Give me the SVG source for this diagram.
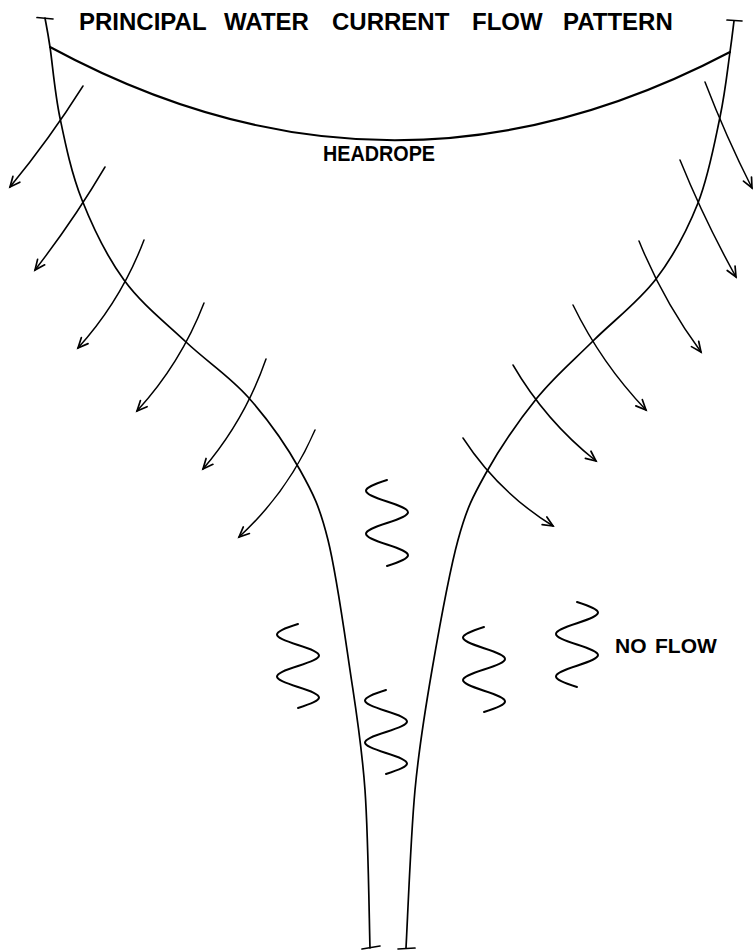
<svg xmlns="http://www.w3.org/2000/svg" width="753" height="951" viewBox="0 0 753 951">
<style>
.ln{fill:none;stroke:#000;stroke-width:1.7;stroke-linecap:round;stroke-linejoin:round}
.hr{fill:none;stroke:#000;stroke-width:2.1;stroke-linecap:round}
.ar{fill:none;stroke:#000;stroke-width:1.5;stroke-linecap:round;marker-end:url(#ah)}
.sq{fill:none;stroke:#000;stroke-width:2;stroke-linecap:round}
.lbl{font-family:"Liberation Sans",Arial,sans-serif;font-weight:bold;fill:#000}
</style>
<defs>
<marker id="ah" markerUnits="userSpaceOnUse" markerWidth="14" markerHeight="14" viewBox="-12 -7 14 14" refX="0" refY="0" orient="auto" overflow="visible">
<path d="M-10,-4.5 L0,0 L-10,4.5" fill="none" stroke="#000" stroke-width="1.7" stroke-linecap="round" stroke-linejoin="miter"/>
</marker>
</defs>
<rect width="753" height="951" fill="#fff"/>

<g id="title">
<text class="lbl" y="30" font-size="24"><tspan x="79">PRINCIPAL</tspan> <tspan x="224">WATER</tspan> <tspan x="332">CURRENT</tspan> <tspan x="472">FLOW</tspan> <tspan x="563">PATTERN</tspan></text>
</g>

<g id="headrope">
<path class="hr" d="M50,47 Q390,231 730,52"/>
<text class="lbl" x="323" y="161" font-size="22" textLength="112" lengthAdjust="spacingAndGlyphs">HEADROPE</text>
</g>

<g id="net-left">
<path class="ln" d="M45,18 C45.8,22.8 47.5,30.3 50,47 C52.5,63.7 54.7,92.5 60,118 C65.3,143.5 71.3,173 82,200 C92.7,227 106.7,256.3 124,280 C141.3,303.7 165.3,322.5 186,342 C206.7,361.5 229,375.7 248,397 C267,418.3 286.7,446.2 300,470 C313.3,493.8 319.7,506.7 328,540 C336.3,573.3 343.8,628.3 350,670 C356.2,711.7 361.7,743.7 365,790 C368.3,836.3 369.2,921.7 370,948"/>
<path class="ln" d="M37,17.5 L53,19"/>
<path class="ln" d="M362,949 L380,946"/>
</g>

<g id="net-right">
<path class="ln" d="M734,21 C733.3,26.2 732.3,36 730,52 C727.7,68 725.3,91.8 720,117 C714.7,142.2 708.7,176 698,203 C687.3,230 673.5,256 656,279 C638.5,302 612.8,321.2 593,341 C573.2,360.8 554.8,376 537,398 C519.2,420 499.2,449.3 486,473 C472.8,496.7 467,507.2 458,540 C449,572.8 439.2,628.3 432,670 C424.8,711.7 419.3,743.7 415,790 C410.7,836.3 407.5,921.7 406,948"/>
<path class="ln" d="M727,20 L742,21"/>
<path class="ln" d="M398,949 L415,948"/>
</g>

<g id="connectors">
<path class="ar" d="M83,86 Q49.7,138.8 10,187"/>
<path class="ar" d="M105,167 Q73.3,220.7 35,270"/>
<path class="ar" d="M144,240 Q121.2,300.3 78,348"/>
<path class="ar" d="M204,303 Q180.7,363.3 137,411"/>
<path class="ar" d="M266,359 Q244.9,420 203,469"/>
<path class="ar" d="M315,430 Q288.4,491.6 239,537"/>
<path class="ar" d="M705,82 Q725.8,136.2 752,188"/>
<path class="ar" d="M680,160 Q704.4,220.2 736,277"/>
<path class="ar" d="M639,241 Q663,300.4 701,352"/>
<path class="ar" d="M573,305 Q601.3,363.2 646,410"/>
<path class="ar" d="M513,365 Q545.4,420.8 596,461"/>
<path class="ar" d="M463,438 Q498.2,492 553,526"/>
</g>

<g id="squiggles">
<path class="sq" d="M387,480 C359,489.1 359,492.4 387,501.5 C415,510.6 415,513.9 387,523 C359,532.1 359,535.4 387,544.5 C415,553.6 415,556.9 387,566"/>
<path class="sq" d="M298,624 C270,632.9 270,636.1 298,645 C326,653.9 326,657.1 298,666 C270,674.9 270,678.1 298,687 C326,695.9 326,699.1 298,708"/>
<path class="sq" d="M386,690 C358,698.9 358,702.1 386,711 C414,719.9 414,723.1 386,732 C358,740.9 358,744.1 386,753 C414,761.9 414,765.1 386,774"/>
<path class="sq" d="M484,627 C456,636 456,639.2 484,648.25 C512,657.3 512,660.5 484,669.5 C456,678.5 456,681.7 484,690.75 C512,699.8 512,703 484,712"/>
<path class="sq" d="M577,602 C605,611 605,614.2 577,623.25 C549,632.3 549,635.5 577,644.5 C605,653.5 605,656.7 577,665.75 C549,674.8 549,678 577,687"/>
</g>

<g id="no-flow">
<text class="lbl" y="653" font-size="21"><tspan x="615">NO</tspan> <tspan x="655">FLOW</tspan></text>
</g>
</svg>
